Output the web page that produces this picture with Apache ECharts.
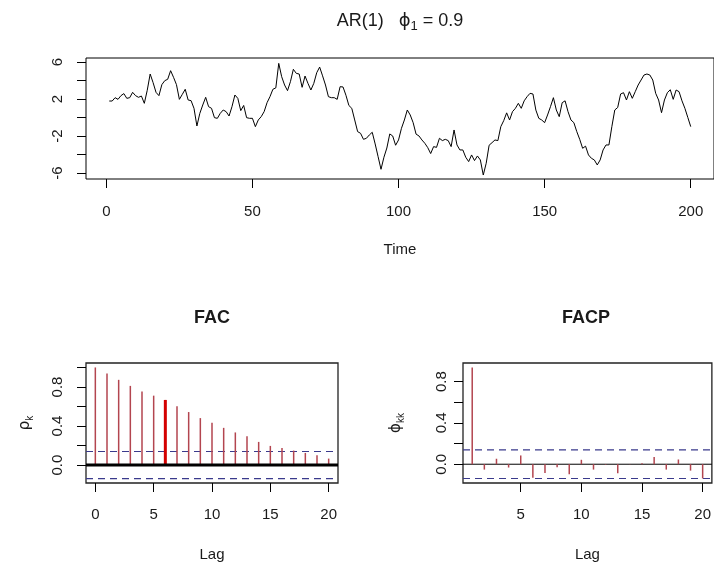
<!DOCTYPE html>
<html>
<head>
<meta charset="utf-8">
<script src="https://cdn.jsdelivr.net/npm/echarts@6/dist/echarts.min.js"></script>
<style>
  html, body { margin: 0; padding: 0; background: #fff; }
  #chart { width: 714px; height: 566px; }
</style>
</head>
<body>
<div id="chart"></div>
<script>
// Simulated AR(1) path, phi = 0.9, t = 1..200
const arSeries = [
  1.78, 1.78, 2.14, 1.96, 2.36, 2.58, 2.07, 2.14, 2.72, 2.36,
  2.18, 2.32, 1.53, 2.94, 4.70, 3.77, 2.72, 2.36, 3.55, 3.98,
  4.13, 5.06, 4.34, 3.55, 1.96, 2.50, 3.05, 1.89, 1.82, 0.99,
  -0.92, 0.45, 1.35, 2.18, 1.17, 0.99, -0.02, -0.09, 0.45, 0.81,
  0.63, 0.16, 1.17, 2.43, 2.07, 0.74, 1.30, -0.02, -0.09, -0.09,
  -0.99, -0.27, 0.09, 0.63, 1.60, 2.25, 3.05, 3.20, 5.85, 4.41,
  3.51, 2.90, 3.87, 5.21, 4.77, 4.70, 3.26, 4.48, 3.69, 2.97,
  3.69, 4.84, 5.45, 4.50, 3.51, 2.25, 2.14, 2.14, 1.96, 3.33,
  3.30, 2.40, 1.30, 0.99, -0.27, -1.53, -1.71, -2.36, -2.25, -1.89,
  -1.60, -2.86, -4.23, -5.60, -4.30, -3.30, -1.78, -2.00, -3.00, -2.43,
  -1.17, -0.27, 0.81, 0.27, -0.56, -1.80, -2.00, -2.43, -2.79, -3.26,
  -3.90, -3.15, -3.23, -2.25, -2.50, -2.36, -2.50, -3.15, -1.35, -2.97,
  -3.51, -3.51, -4.30, -4.77, -4.05, -4.66, -4.16, -4.59, -6.22, -4.95,
  -3.00, -2.72, -2.43, -2.50, -0.99, -0.34, 0.50, -0.27, 0.63, 0.99,
  1.53, 0.99, 1.80, 2.25, 2.61, 2.54, 0.80, -0.09, -0.27, -0.56,
  0.27, 1.17, 2.14, 0.81, 0.09, 1.60, 1.80, 0.63, -0.27, -0.56,
  -1.53, -2.36, -3.33, -3.10, -4.05, -4.41, -4.59, -5.13, -4.59, -3.51,
  -2.97, -2.97, -0.99, 0.81, 1.08, 2.54, 2.68, 1.89, 2.79, 2.07,
  2.79, 3.51, 4.05, 4.59, 4.70, 4.59, 4.05, 2.61, 1.89, 0.52,
  1.89, 2.68, 3.00, 1.96, 2.97, 2.79, 1.80, 0.99, 0.00, -0.99
];

// Sample autocorrelations, lags 0..20
const acfLags = [0, 1, 2, 3, 4, 5, 6, 7, 8, 9, 10, 11, 12, 13, 14, 15, 16, 17, 18, 19, 20];
const acfValues = [1.000, 0.938, 0.873, 0.811, 0.753, 0.711, 0.667, 0.602, 0.543, 0.481, 0.433,
                   0.381, 0.334, 0.296, 0.237, 0.196, 0.175, 0.148, 0.124, 0.100, 0.066];
const acfHighlightLag = 6;

// Sample partial autocorrelations, lags 1..20
const pacfLags = [1, 2, 3, 4, 5, 6, 7, 8, 9, 10, 11, 12, 13, 14, 15, 16, 17, 18, 19, 20];
const pacfValues = [0.938, -0.052, 0.053, -0.032, 0.085, -0.131, -0.085, -0.030, -0.098, 0.043,
                    -0.052, -0.005, -0.088, 0.003, 0.010, 0.069, -0.052, 0.046, -0.062, -0.138];

// 95% band, n = 200
const confBound = 0.1386;

// Tick marks and labels
const timeTicks = [0, 50, 100, 150, 200];
const seriesTicks = [-6, -4, -2, 0, 2, 4, 6];
const seriesLabels = [-6, -2, 2, 6];
const acfXTicks = [0, 5, 10, 15, 20];
const pacfXTicks = [5, 10, 15, 20];
const acfYTicks = [0, 0.2, 0.4, 0.6, 0.8, 1.0];
const pacfYTicks = [0, 0.2, 0.4, 0.6, 0.8];
const corrLabels = [0, 0.4, 0.8];

const FONT = '"Liberation Sans", Arial, sans-serif';
const TXT = '#1a1a1a';

// Axis ranges (4% padding around data span)
const tRange = [-6.96, 207.96];
const yRange = [-6.65, 6.43];
const acfXRange = [-0.8, 20.8];
const acfYRange = [-0.184, 1.0455];
const pacfXRange = [0.24, 20.76];
const pacfYRange = [-0.182, 0.981];

function xAxisDef(grid, range, ticks, name, margin, gap) {
  return {
    gridIndex: grid, type: 'value', min: range[0], max: range[1],
    axisLine: { show: false, onZero: false }, splitLine: { show: false },
    axisTick: { show: true, customValues: ticks, length: 9, lineStyle: { color: '#000', width: 1 } },
    axisLabel: { customValues: ticks, margin: margin, fontSize: 15, color: TXT, fontFamily: FONT },
    name: name, nameLocation: 'middle', nameGap: gap,
    nameTextStyle: { fontSize: 15, color: TXT, fontFamily: FONT }
  };
}

function yAxisDef(grid, range, ticks, labels, margin, fmt, name, gap) {
  const ax = {
    gridIndex: grid, type: 'value', min: range[0], max: range[1],
    axisLine: { show: false, onZero: false }, splitLine: { show: false },
    axisTick: { show: true, customValues: ticks, length: 9, lineStyle: { color: '#000', width: 1 } },
    axisLabel: { customValues: labels, rotate: 90, margin: margin, fontSize: 15, color: TXT,
                 fontFamily: FONT, formatter: fmt }
  };
  if (name) {
    ax.name = name;
    ax.nameLocation = 'middle';
    ax.nameGap = gap;
    ax.nameRotate = 90;
    ax.nameTextStyle = {
      color: TXT, fontFamily: FONT,
      rich: {
        b: { fontSize: 15, color: TXT, fontFamily: 'DejaVu Sans', lineHeight: 20, verticalAlign: 'middle' },
        s: { fontSize: 10, color: TXT, fontFamily: FONT, lineHeight: 20, verticalAlign: 'bottom' }
      }
    };
  }
  return ax;
}

function stems(xi, yi, lags, values, color, width, z) {
  return {
    type: 'custom', xAxisIndex: xi, yAxisIndex: yi, silent: true, z: z,
    data: lags.map((l, i) => [l, values[i]]),
    encode: { x: 0, y: 1 },
    renderItem: function (params, api) {
      const lag = api.value(0), v = api.value(1);
      const a = api.coord([lag, 0]);
      const b = api.coord([lag, v]);
      return { type: 'line', shape: { x1: a[0], y1: a[1], x2: b[0], y2: b[1] },
               style: { stroke: color, lineWidth: width } };
    }
  };
}

function hline(xi, yi, range, y, color, width, type, z) {
  return {
    type: 'line', xAxisIndex: xi, yAxisIndex: yi, silent: true, z: z,
    symbol: 'none', data: [[range[0], y], [range[1], y]],
    lineStyle: { color: color, width: width, type: type }
  };
}

const fmt1 = v => v.toFixed(1);
const fmt0 = v => String(v);

const chart = echarts.init(document.getElementById('chart'), null, { renderer: 'canvas' });

const option = {
  animation: false,
  backgroundColor: '#fff',
  grid: [
    { left: 86, top: 58, width: 628, height: 121, show: true, borderColor: '#000', borderWidth: 1 },
    { left: 86, top: 363, width: 252, height: 120, show: true, borderColor: '#222', borderWidth: 1.3 },
    { left: 463, top: 363, width: 252, height: 120, show: true, borderColor: '#222', borderWidth: 1.3 }
  ],
  xAxis: [
    xAxisDef(0, tRange, timeTicks, 'Time', 25, 63),
    xAxisDef(1, acfXRange, acfXTicks, 'Lag', 24, 64),
    xAxisDef(2, pacfXRange, pacfXTicks, 'Lag', 24, 64)
  ],
  yAxis: [
    yAxisDef(0, yRange, seriesTicks, seriesLabels, 21, fmt0),
    yAxisDef(1, acfYRange, acfYTicks, corrLabels, 21, fmt1, '{b|ρ}{s|k}', 51),
    yAxisDef(2, pacfYRange, pacfYTicks, corrLabels, 14, fmt1, '{b|ϕ}{s|kk}', 57)
  ],
  series: [
    {
      type: 'line', xAxisIndex: 0, yAxisIndex: 0, symbol: 'none', silent: true,
      data: arSeries.map((v, i) => [i + 1, v]),
      lineStyle: { color: '#000', width: 1 }
    },
    // ACF panel
    hline(1, 1, acfXRange, confBound, '#3a3a8c', 1.2, [7, 5], 2),
    hline(1, 1, acfXRange, -confBound, '#3a3a8c', 1.2, [7, 5], 2),
    stems(1, 1, acfLags, acfValues, '#b3454f', 1.5, 3),
    stems(1, 1, [acfHighlightLag], [acfValues[acfLags.indexOf(acfHighlightLag)]], '#d40000', 3, 4),
    hline(1, 1, acfXRange, 0, '#000', 3, 'solid', 5),
    // PACF panel
    hline(2, 2, pacfXRange, confBound, '#3a3a8c', 1.2, [7, 5], 2),
    hline(2, 2, pacfXRange, -confBound, '#3a3a8c', 1.2, [7, 5], 2),
    hline(2, 2, pacfXRange, 0, '#000', 1, 'solid', 3),
    stems(2, 2, pacfLags, pacfValues, '#b3454f', 1.5, 4)
  ],
  graphic: [
    {
      type: 'text', x: 400, y: 21, silent: true,
      style: {
        text: '{t|AR(1)   }{p|ϕ}{s|1}{t| = 0.9}',
        align: 'center', verticalAlign: 'middle', textAlign: 'center', textVerticalAlign: 'middle',
        rich: {
          t: { fontSize: 18, fontFamily: FONT, fill: TXT, lineHeight: 24, verticalAlign: 'middle' },
          p: { fontSize: 18, fontFamily: 'DejaVu Sans', fill: TXT, lineHeight: 24, verticalAlign: 'middle' },
          s: { fontSize: 13, fontFamily: FONT, fill: TXT, lineHeight: 24, verticalAlign: 'bottom' }
        }
      }
    },
    {
      type: 'text', x: 212, y: 318, silent: true,
      style: { text: 'FAC', font: 'bold 18px ' + FONT, fill: TXT,
               align: 'center', verticalAlign: 'middle', textAlign: 'center', textVerticalAlign: 'middle' }
    },
    {
      type: 'text', x: 586, y: 318, silent: true,
      style: { text: 'FACP', font: 'bold 18px ' + FONT, fill: TXT,
               align: 'center', verticalAlign: 'middle', textAlign: 'center', textVerticalAlign: 'middle' }
    }
  ]
};

chart.setOption(option);
</script>
</body>
</html>
